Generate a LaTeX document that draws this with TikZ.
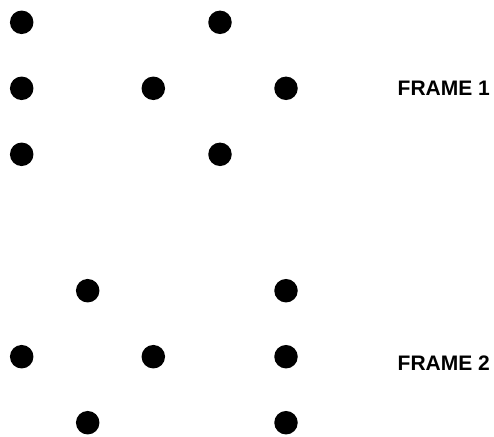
\documentclass[tikz,border=0pt]{standalone}
\usepackage{fontspec}
\setmainfont{Liberation Sans}
\begin{document}
\begin{tikzpicture}[x=1pt,y=-1pt,
  dot/.style={circle,fill=black,inner sep=0pt,minimum size=23.5pt},
  framelabel/.style={anchor=west,inner sep=0pt,font=\fontsize{21}{25}\selectfont\bfseries}]
\useasboundingbox (0,0) rectangle (494,436);
% Frame 1
\node[dot] (a1) at (21.7,22.3) {};
\node[dot] (a2) at (220,22.3) {};
\node[dot] (a3) at (21.7,88.3) {};
\node[dot] (a4) at (153.3,88.3) {};
\node[dot] (a5) at (286,88.3) {};
\node[dot] (a6) at (21.7,154.3) {};
\node[dot] (a7) at (220,154.3) {};
\node[framelabel] (f1) at (397.5,88.5) {FRAME 1};
% Frame 2
\node[dot] (b1) at (87.7,290.7) {};
\node[dot] (b2) at (286,290.7) {};
\node[dot] (b3) at (21.7,356.7) {};
\node[dot] (b4) at (153.3,356.7) {};
\node[dot] (b5) at (286,356.7) {};
\node[dot] (b6) at (87.7,422.7) {};
\node[dot] (b7) at (286,422.7) {};
\node[framelabel] (f2) at (397.5,363.3) {FRAME 2};
\end{tikzpicture}
\end{document}
